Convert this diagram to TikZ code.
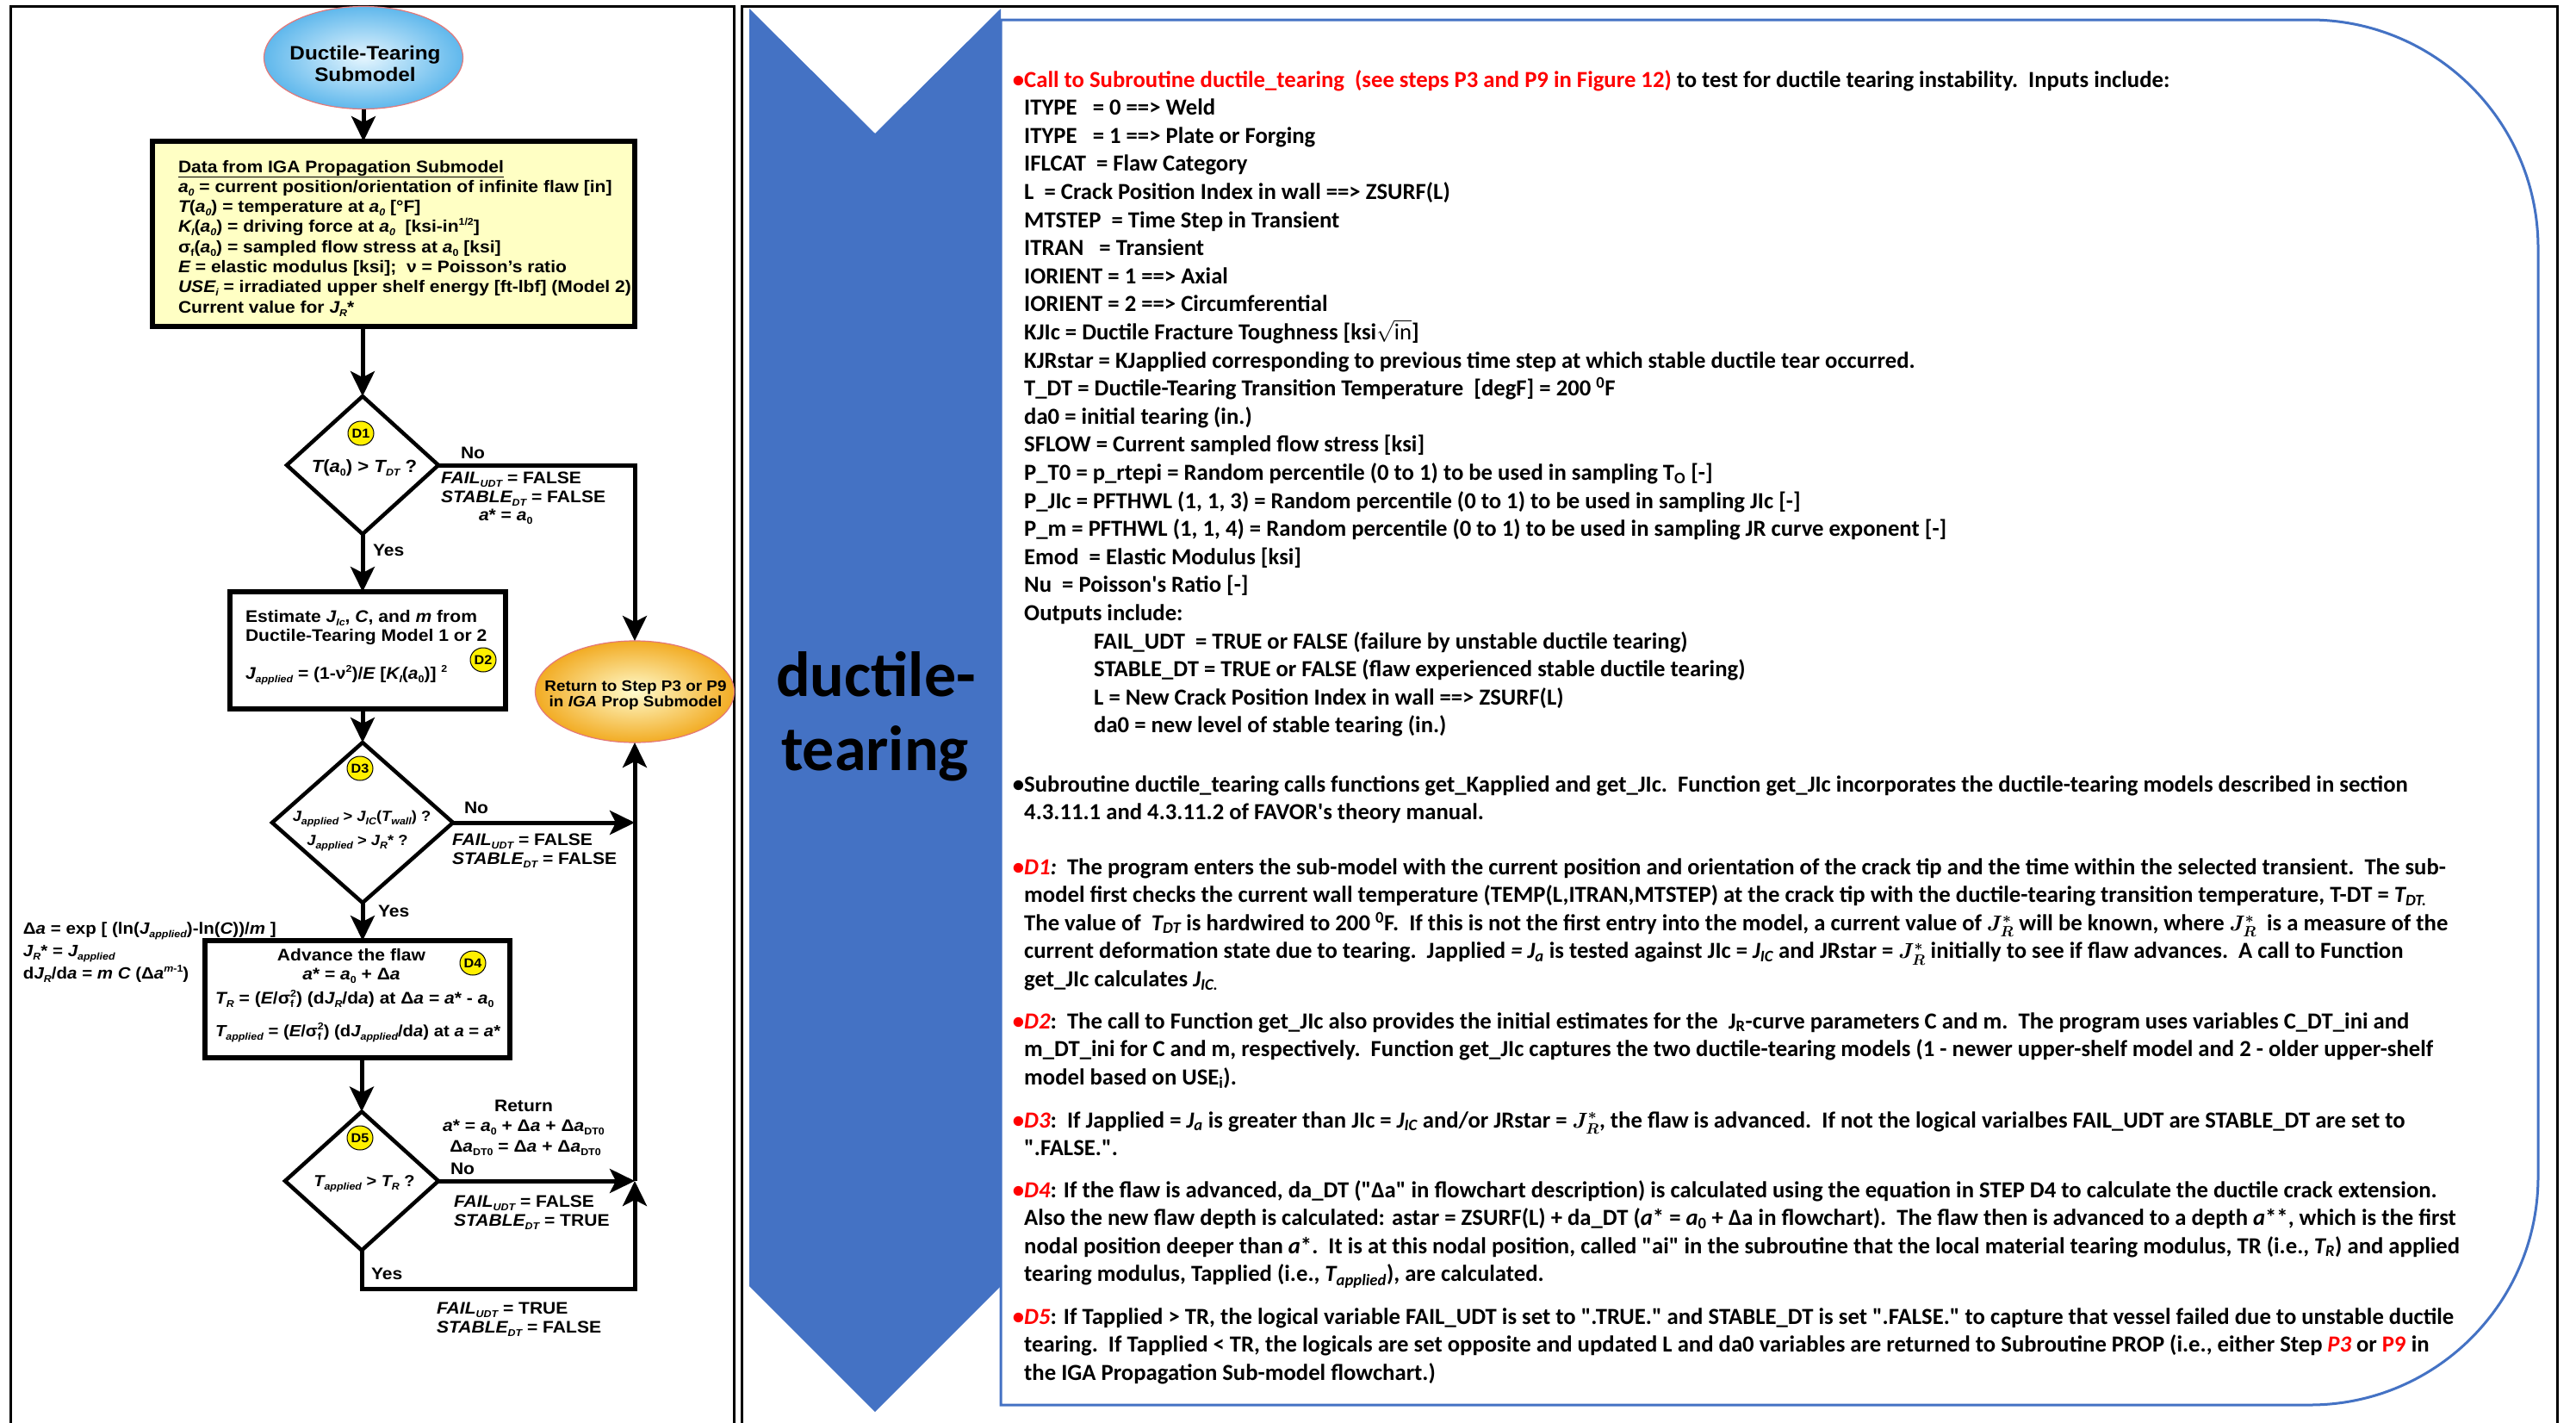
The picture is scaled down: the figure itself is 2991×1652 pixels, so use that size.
\documentclass[tikz,border=0pt]{standalone}
\usepackage{fontspec}
\setmainfont{Carlito}
\newfontfamily\fcf{Liberation Sans}[FakeStretch=1.08]
\usetikzlibrary{shapes.geometric,arrows.meta}
\definecolor{officeblue}{RGB}{68,114,196}
\definecolor{boxyellow}{RGB}{255,255,196}
\definecolor{badgeyellow}{RGB}{255,240,0}
\definecolor{skyin}{RGB}{228,245,254}
\definecolor{skyout}{RGB}{96,184,236}
\definecolor{goldin}{RGB}{255,251,205}
\definecolor{goldout}{RGB}{242,172,36}
\definecolor{pinkline}{RGB}{228,120,120}
\newcommand\mysub[1]{\raisebox{-4pt}{\fontsize{11.5}{11.5}\selectfont #1}}
\newcommand\mysup[1]{\raisebox{8pt}{\fontsize{11.5}{11.5}\selectfont #1}}
\newcommand\itx[1]{{\itshape #1}}
\newcommand\rdx[1]{\textcolor{red}{#1}}
\newcommand\rowx[1]{\hbox{#1}}
\newcommand\vstk[2]{\vtop{\baselineskip=#1\lineskiplimit=-1000pt\relax #2}}
\newcommand\Jap{\itx{J}\mysub{\itx{applied}}}
\newcommand\FAILu{\itx{FAIL}\mysub{\itx{UDT}}}
\newcommand\STABd{\itx{STABLE}\mysub{\itx{DT}}}
\newcommand\aO{\itx{a}\mysub{\itx{0}}}
\newcommand\qd{\textquotedbl}
\newcommand\JRstr{{\boldmath$J_R^*$}}
\tikzset{
  flow/.style={line width=5pt, draw=black},
  arr/.style={flow, -{Stealth[length=29pt,width=28pt,inset=7pt]}},
  dia/.style={diamond, draw=black, line width=4.5pt, fill=white, inner sep=0pt, outer sep=0pt},
  fbox/.style={rectangle, draw=black, line width=6pt, inner sep=0pt, outer sep=0pt},
  badge/.style={ellipse, draw=black, line width=1pt, fill=badgeyellow, minimum width=30pt, minimum height=28pt, inner sep=0pt, font=\fcf\bfseries\fontsize{15}{15}\selectfont},
  fc/.style={font=\fcf\bfseries\fontsize{19.5}{23}\selectfont, inner sep=0pt, outer sep=0pt},
  fcw/.style={fc, anchor=base west},
  fcc/.style={fc, anchor=base},
  fcbig/.style={font=\fcf\bfseries\fontsize{22.5}{25}\selectfont, inner sep=0pt, anchor=base},
  fcret/.style={font=\fcf\bfseries\fontsize{17.5}{18.5}\selectfont, inner sep=0pt, anchor=base},
  fcdia/.style={font=\fcf\bfseries\fontsize{#1}{#1}\selectfont, inner sep=0pt, anchor=base},
  rt/.style={font=\bfseries\fontsize{26.7}{32.6}\selectfont, inner sep=0pt, anchor=base west},
  panelframe/.style={draw=black, line width=3pt},
}
\begin{document}
\begin{tikzpicture}[x=1pt,y=-1pt]
\useasboundingbox (0,0) rectangle (2991,1652);
\fill[white] (0,0) rectangle (2991,1652);
% panel frames
\draw[panelframe] (12,1700) -- (12,7) -- (852,7) -- (852,1700);
\draw[panelframe] (861,1700) -- (861,7) -- (2969,7) -- (2969,1700);
% right text box
\draw[officeblue, line width=3pt] (1162,23) -- (2682,23) arc[start angle=-90,end angle=0,radius=265] -- (2947,1366) arc[start angle=0,end angle=90,radius=265] -- (1162,1631) -- cycle;
% chevron
\fill[officeblue] (870,10) -- (1016,155) -- (1162,10) -- (1162,1493) -- (1016,1639) -- (870,1493) -- cycle;
\node[font=\bfseries\fontsize{74}{86}\selectfont, inner sep=0pt, anchor=base] (chv1) at (1017,808) {ductile-};
\node[font=\bfseries\fontsize{74}{86}\selectfont, inner sep=0pt, anchor=base] (chv2) at (1016,894) {tearing};

% ---------------- flowchart shapes
\node[ellipse, minimum width=231pt, minimum height=119pt, inner sep=0pt, outer sep=0pt, draw=pinkline, line width=1.2pt, inner color=skyin, outer color=skyout] (start) at (422,67) {};
\node[fcbig] (startA) at (424,69) {Ductile-Tearing};
\node[fcbig] (startB) at (424,94) {Submodel};

\node[fbox, fill=boxyellow, minimum width=560pt, minimum height=215pt] (data) at (457,271.5) {};
\node[dia, minimum width=176pt, minimum height=160pt] (d1) at (421,540) {};
\node[fbox, fill=white, minimum width=320pt, minimum height=136pt] (est) at (427,755) {};
\node[ellipse, minimum width=231pt, minimum height=118pt, inner sep=0pt, outer sep=0pt, draw=pinkline, line width=1.2pt, inner color=goldin, outer color=goldout] (ret) at (737,803) {};
\node[dia, minimum width=210pt, minimum height=186pt] (d3) at (421,955) {};
\node[fbox, fill=white, minimum width=354pt, minimum height=136pt] (d4) at (415,1160) {};
\node[dia, minimum width=178pt, minimum height=161pt] (d5) at (420,1371) {};

% ---------------- connectors
\coordinate (ycorner) at (737,1496);
\draw[arr] (start.south) -- (start.south |- data.north);
\draw[arr] (data.south -| d1.north) -- (d1.north);
\draw[arr] (d1.east) -| (ret.north);
\draw[arr] (d1.south) -- (d1.south |- est.north);
\draw[arr] (est.south -| d3.north) -- (d3.north);
\draw[arr] (d5.east -| ret.south) -- (ret.south);
\draw[arr] (d3.east) -- (d3.east -| ret.south);
\draw[arr] (d3.south) -- (d3.south |- d4.north);
\draw[arr] (d5.north |- d4.south) -- (d5.north);
\draw[arr] (d5.south) |- (ycorner) -- (d5.east -| ret.south);
\draw[arr] (d5.east) -- (d5.east -| ret.south);

% ---------------- badges
\node[badge] (b1) at (419,503) {D1};
\node[badge] (b2) at (561,766) {D2};
\node[badge] (b3) at (418,892) {D3};
\node[badge] (b4) at (549,1118) {D4};
\node[badge] (b5) at (418,1321) {D5};

% ---------------- flowchart texts
\node[fcw] (datatxt) at (207,200) {\vstk{23.3pt}{%
\rowx{\underline{Data from IGA Propagation Submodel}}%
\rowx{\aO{} = current position/orientation of infinite flaw [in]}%
\rowx{\itx{T}(\aO) = temperature at \aO{} [°F]}%
\rowx{\itx{K}\mysub{\itx{I}}(\aO) = driving force at \aO\ \ [ksi-in\mysup{1/2}]}%
\rowx{σ\mysub{f}(\itx{a}\mysub{0}) = sampled flow stress at \itx{a}\mysub{0} [ksi]}%
\rowx{\itx{E} = elastic modulus [ksi];\ \ ν = Poisson’s ratio}%
\rowx{\itx{USE}\mysub{\itx{i}} = irradiated upper shelf energy [ft-lbf] (Model 2)}%
\rowx{Current value for \itx{J}\mysub{\itx{R}}*}}};

\node[fcdia=20.5] (d1t) at (423,548) {\itx{T}(\itx{a}\mysub{0}) > \itx{T}\mysub{\itx{DT}} ?};
\node[fcw] (d1no) at (535,532) {No};
\node[fcw] (d1out) at (512,561) {\vstk{22pt}{\rowx{\FAILu{} = FALSE}\rowx{\STABd{} = FALSE}}};
\node[fcw] (d1a) at (556,604) {\itx{a}* = \itx{a}\mysub{0}};
\node[fcw] (d1yes) at (433,645) {Yes};

\node[fcw] (esttxt) at (285,722) {\vstk{22pt}{%
\rowx{Estimate \itx{J}\mysub{\itx{Ic}}, \itx{C}, and \itx{m} from}%
\rowx{Ductile-Tearing Model 1 or 2}}};
\node[fcw] (esttxt2) at (285,788) {\Jap{} = (1-ν\mysup{2})/\itx{E} [\itx{K}\mysub{\itx{I}}(\itx{a}\mysub{0})] \mysup{2}};

\node[fcret] (retA) at (738,802) {Return to Step P3 or P9};
\node[fcret] (retB) at (738,820) {in \itx{IGA} Prop Submodel};

\node[fcdia=17] (d3t1) at (420,953) {\Jap{} > \itx{J}\mysub{\itx{IC}}(\itx{T}\mysub{\itx{wall}}) ?};
\node[fcdia=17] (d3t2) at (415,981) {\Jap{} > \itx{J}\mysub{\itx{R}}* ?};
\node[fcw] (d3no) at (539,944) {No};
\node[fcw] (d3out) at (525,981) {\vstk{22pt}{\rowx{\FAILu{} = FALSE}\rowx{\STABd{} = FALSE}}};
\node[fcw] (d3yes) at (439,1064) {Yes};

\node[fcw, font=\fcf\bfseries\fontsize{19}{23}\selectfont] (note) at (27,1084) {\vstk{26pt}{%
\rowx{Δ\itx{a} = exp [ (ln(\Jap)-ln(\itx{C}))/\itx{m} ]}%
\rowx{\itx{J}\mysub{\itx{R}}* = \Jap}%
\rowx{d\itx{J}\mysub{\itx{R}}/d\itx{a} = \itx{m} \itx{C} (Δ\itx{a}\mysup{\itx{m}-1})}}};

\node[fcc] (d4t1) at (408,1115) {Advance the flaw};
\node[fcc] (d4t2) at (408,1137) {\itx{a}* = \itx{a}\mysub{0} + Δ\itx{a}};
\node[fcw] (d4t3) at (250,1165) {\itx{T}\mysub{\itx{R}} = (\itx{E}/σ\rlap{\mysub{f}}\mysup{2}) (d\itx{J}\mysub{\itx{R}}/d\itx{a}) at Δ\itx{a} = \itx{a}* - \itx{a}\mysub{0}};
\node[fcw, font=\fcf\bfseries\fontsize{18.8}{23}\selectfont] (d4t4) at (250,1203) {\itx{T}\mysub{\itx{applied}} = (\itx{E}/σ\rlap{\mysub{f}}\mysup{2}) (d\Jap/d\itx{a}) at \itx{a} = \itx{a}*};

\node[fcdia=18.5] (d5t) at (423,1377) {\itx{T}\mysub{\itx{applied}} > \itx{T}\mysub{\itx{R}} ?};
\node[fcc] (d5r1) at (608,1290) {Return};
\node[fcc] (d5r2) at (608,1313) {\itx{a}* = \itx{a}\mysub{0} + Δ\itx{a} + Δ\itx{a}\mysub{DT0}};
\node[fcc] (d5r3) at (610,1337) {Δ\itx{a}\mysub{DT0} = Δ\itx{a} + Δ\itx{a}\mysub{DT0}};
\node[fcw] (d5no) at (523,1363) {No};
\node[fcw] (d5out) at (527,1401) {\vstk{22pt}{\rowx{\FAILu{} = FALSE}\rowx{\STABd{} = TRUE}}};
\node[fcw] (d5yes) at (431,1485) {Yes};
\node[fcw] (d5fail) at (507,1525) {\vstk{22pt}{\rowx{\FAILu{} = TRUE}\rowx{\STABd{} = FALSE}}};

% ---------------- right panel text
\node[rt] (blk1) at (1189,101) {\vstk{32.6pt}{%
\rowx{\llap{\rdx{•}}\rdx{Call to Subroutine ductile\_tearing\ \ (see steps P3 and P9 in Figure 12)} to test for ductile tearing instability.\ \ Inputs include:}%
\rowx{ITYPE\ \ \ = 0 ==> Weld}%
\rowx{ITYPE\ \ \ = 1 ==> Plate or Forging}%
\rowx{IFLCAT\ \ = Flaw Category}%
\rowx{L\ \ = Crack Position Index in wall ==> ZSURF(L)}%
\rowx{MTSTEP\ \ = Time Step in Transient}%
\rowx{ITRAN\ \ \ = Transient}%
\rowx{IORIENT = 1 ==> Axial}%
\rowx{IORIENT = 2 ==> Circumferential}%
\rowx{KJIc = Ductile Fracture Toughness [ksi$\sqrt{\mathrm{in}}$]}%
\rowx{KJRstar = KJapplied corresponding to previous time step at which stable ductile tear occurred.}%
\rowx{T\_DT = Ductile-Tearing Transition Temperature\ \ [degF] = 200 \textsuperscript{0}F}%
\rowx{da0 = initial tearing (in.)}%
\rowx{SFLOW = Current sampled flow stress [ksi]}%
\rowx{P\_T0 = p\_rtepi = Random percentile (0 to 1) to be used in sampling T\textsubscript{O} [-]}%
\rowx{P\_JIc = PFTHWL (1, 1, 3) = Random percentile (0 to 1) to be used in sampling JIc [-]}%
\rowx{P\_m = PFTHWL (1, 1, 4) = Random percentile (0 to 1) to be used in sampling JR curve exponent [-]}%
\rowx{Emod\ \ = Elastic Modulus [ksi]}%
\rowx{Nu\ \ = Poisson\textquotesingle s Ratio [-]}%
\rowx{Outputs include:}%
\rowx{\hspace{81pt}FAIL\_UDT\ \ = TRUE or FALSE (failure by unstable ductile tearing)}%
\rowx{\hspace{81pt}STABLE\_DT = TRUE or FALSE (flaw experienced stable ductile tearing)}%
\rowx{\hspace{81pt}L = New Crack Position Index in wall ==> ZSURF(L)}%
\rowx{\hspace{81pt}da0 = new level of stable tearing (in.)}}};

\node[rt] (blk2) at (1189,919) {\vstk{32.6pt}{%
\rowx{\llap{•}Subroutine ductile\_tearing calls functions get\_Kapplied and get\_JIc.\ \ Function get\_JIc incorporates the ductile-tearing models described in section}%
\rowx{4.3.11.1 and 4.3.11.2 of FAVOR\textquotesingle s theory manual.}}};

\node[rt] (blkD1) at (1189,1015) {\vstk{32.6pt}{%
\rowx{\llap{\rdx{•}}\rdx{\itshape D1}\itx{:}\ \ The program enters the sub-model with the current position and orientation of the crack tip and the time within the selected transient.\ \ The sub-}%
\rowx{model first checks the current wall temperature (TEMP(L,ITRAN,MTSTEP) at the crack tip with the ductile-tearing transition temperature, T-DT = \itx{T\textsubscript{DT.}}}%
\rowx{The value of\ \ \itx{T\textsubscript{DT}} is hardwired to 200 \textsuperscript{0}F.\ \ If this is not the first entry into the model, a current value of \JRstr{} will be known, where \JRstr\ \ is a measure of the}%
\rowx{current deformation state due to tearing.\ \ Japplied \itx{= J\textsubscript{a}} is tested against JIc = \itx{J\textsubscript{IC}} and JRstar = \JRstr{} initially to see if flaw advances.\ \ A call to Function}%
\rowx{get\_JIc calculates \itx{J\textsubscript{IC.}}}}};

\node[rt] (blkD2) at (1189,1194) {\vstk{32.6pt}{%
\rowx{\llap{\rdx{•}}\rdx{\itshape D2}:\ \ The call to Function get\_JIc also provides the initial estimates for the\ \ J\textsubscript{R}-curve parameters C and m.\ \ The program uses variables C\_DT\_ini and}%
\rowx{m\_DT\_ini for C and m, respectively.\ \ Function get\_JIc captures the two ductile-tearing models (1 - newer upper-shelf model and 2 - older upper-shelf}%
\rowx{model based on USE\textsubscript{i}).}}};

\node[rt] (blkD3) at (1189,1309) {\vstk{32.6pt}{%
\rowx{\llap{\rdx{•}}\rdx{\itshape D3}:\ \ If Japplied = \itx{J\textsubscript{a}} is greater than JIc = \itx{J\textsubscript{IC}} and/or JRstar = \JRstr, the flaw is advanced.\ \ If not the logical varialbes FAIL\_UDT are STABLE\_DT are set to}%
\rowx{\qd.FALSE.\qd.}}};

\node[rt] (blkD4) at (1189,1390) {\vstk{32.6pt}{%
\rowx{\llap{\rdx{•}}\rdx{\itshape D4}: If the flaw is advanced, da\_DT (\qd Δa\qd{} in flowchart description) is calculated using the equation in STEP D4 to calculate the ductile crack extension.}%
\rowx{Also the new flaw depth is calculated: astar = ZSURF(L) + da\_DT (\itx{a}* = \itx{a}\textsubscript{0} + Δa in flowchart).\ \ The flaw then is advanced to a depth \itx{a}**, which is the first}%
\rowx{nodal position deeper than \itx{a}*.\ \ It is at this nodal position, called \qd ai\qd{} in the subroutine that the local material tearing modulus, TR (i.e., \itx{T\textsubscript{R}}) and applied}%
\rowx{tearing modulus, Tapplied (i.e., \itx{T\textsubscript{applied}}), are calculated.}}};

\node[rt] (blkD5) at (1189,1537) {\vstk{32.6pt}{%
\rowx{\llap{\rdx{•}}\rdx{\itshape D5}: If Tapplied > TR, the logical variable FAIL\_UDT is set to \qd.TRUE.\qd{} and STABLE\_DT is set \qd.FALSE.\qd{} to capture that vessel failed due to unstable ductile}%
\rowx{tearing.\ \ If Tapplied < TR, the logicals are set opposite and updated L and da0 variables are returned to Subroutine PROP (i.e., either Step \rdx{\itshape P3} or \rdx{P9} in}%
\rowx{the IGA Propagation Sub-model flowchart.)}}};
\end{tikzpicture}
\end{document}
